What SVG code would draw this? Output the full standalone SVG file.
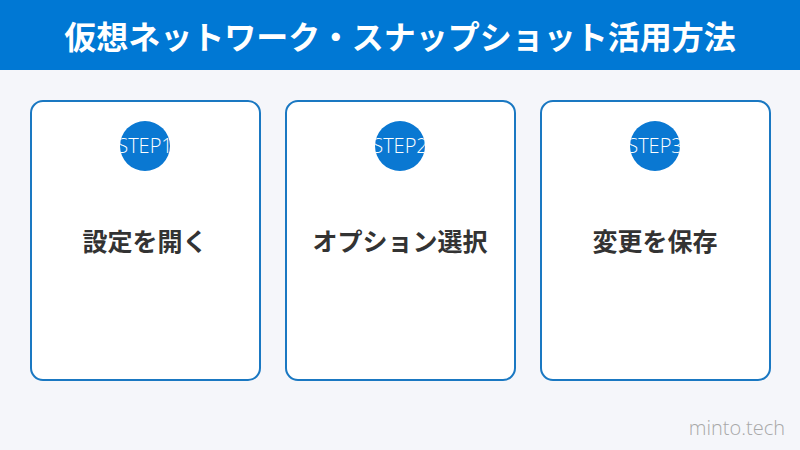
<svg xmlns="http://www.w3.org/2000/svg" width="800" height="450" viewBox="0 0 800 450">
<style>
.card{fill:#ffffff;stroke:#1a78c2;stroke-width:2}
.badge{fill:#0a78d2}
.step{font-family:"Open Sans","Noto Sans",sans-serif;font-size:20px;font-weight:300;fill:#ffffff;text-anchor:middle}
.label{font-family:"Noto Sans CJK JP",sans-serif;font-size:25px;font-weight:bold;fill:#333333;text-anchor:middle}
.title{font-family:"Noto Sans CJK JP",sans-serif;font-size:32px;font-weight:bold;fill:#ffffff;text-anchor:middle}
.wm{font-family:"Open Sans","Noto Sans",sans-serif;font-size:20px;font-weight:300;fill:#a8a8a8;text-anchor:end}
</style>
<defs>
<clipPath id="c1"><circle cx="145" cy="146" r="25"/></clipPath>
<clipPath id="c2"><circle cx="400" cy="146" r="25"/></clipPath>
<clipPath id="c3"><circle cx="655" cy="146" r="25"/></clipPath>
</defs>
<rect x="0" y="0" width="800" height="450" fill="#f5f6fa"/>
<g id="header">
<rect x="0" y="0" width="800" height="70" fill="#0078d4"/>
<text class="title" x="400" y="49">仮想ネットワーク・スナップショット活用方法</text>
</g>
<g id="step1">
<rect class="card" x="31" y="101" width="229" height="279" rx="12"/>
<circle class="badge" cx="145" cy="146" r="25"/>
<text class="step" x="145" y="153" clip-path="url(#c1)">STEP1</text>
<text class="label" x="145" y="251">設定を開く</text>
</g>
<g id="step2">
<rect class="card" x="286" y="101" width="229" height="279" rx="12"/>
<circle class="badge" cx="400" cy="146" r="25"/>
<text class="step" x="400" y="153" clip-path="url(#c2)">STEP2</text>
<text class="label" x="400" y="251">オプション選択</text>
</g>
<g id="step3">
<rect class="card" x="541" y="101" width="229" height="279" rx="12"/>
<circle class="badge" cx="655" cy="146" r="25"/>
<text class="step" x="655" y="153" clip-path="url(#c3)">STEP3</text>
<text class="label" x="655" y="251">変更を保存</text>
</g>
<g id="connectors"></g>
<text class="wm" x="785" y="435">minto.tech</text>
</svg>
